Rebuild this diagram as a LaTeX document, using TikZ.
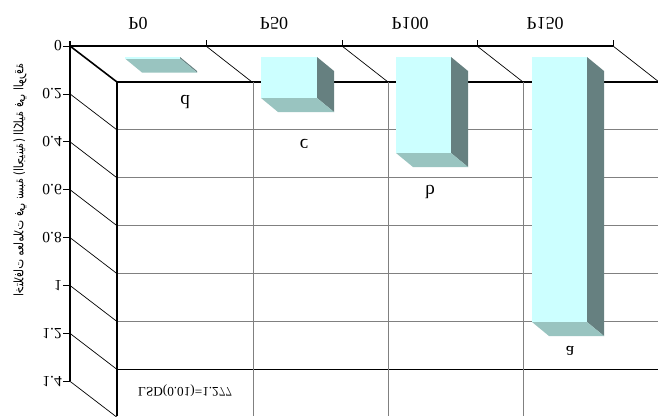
\documentclass[tikz,border=0pt]{standalone}
\usepackage{fontspec}
\setmainfont{Liberation Serif}
\newfontfamily\arabicfont[Script=Arabic]{DejaVu Sans}
\TeXXeTstate=1
\newcommand{\flipv}[1]{\scalebox{1}[-1]{#1}}
\definecolor{barfront}{RGB}{204,255,255}
\definecolor{barside}{RGB}{102,128,128}
\definecolor{barbot}{RGB}{153,196,192}
\definecolor{gridgray}{RGB}{128,128,128}
\newcommand{\cuboid}[4]{%
  \fill[barside] (#2,#3) -- ++(17,14) -- (#2+17,#4+14) -- (#2,#4) -- cycle;
  \fill[barbot] (#1,#4) -- (#2,#4) -- (#2+17,#4+14) -- (#1+17,#4+14) -- cycle;
  \fill[barfront] (#1,#3) rectangle (#2,#4);}
\tikzset{
  gridline/.style={draw=gridgray, line width=1pt},
  blackline/.style={draw=black, line width=1.1pt},
  thinline/.style={draw=black, line width=0.7pt},
  catlabel/.style={font=\fontsize{18}{20}\selectfont, inner sep=0pt},
  ticklabel/.style={font=\fontsize{15.5}{18}\selectfont, inner sep=0pt, anchor=east},
  grouplabel/.style={font=\fontsize{19}{21}\selectfont, inner sep=0pt},
}
\begin{document}
\begin{tikzpicture}[x=1pt,y=-1pt]
\useasboundingbox[fill=white] (0,0) rectangle (658,416);
% front grid
\foreach \k in {1,...,5} {
  \draw[gridline] (117,82+47.9*\k) -- (658,82+47.9*\k);
}
\draw[blackline] (117,82) -- (658,82);
\draw[blackline] (117,369.4) -- (658,369.4);
\foreach \x in {253,388,523} {
  \draw[gridline] (\x,82) -- (\x,416);
}
\draw[blackline] (117,82) -- (117,416);
% back top line with ticks and diagonals
\draw[blackline, line width=1.4pt] (70,46) -- (613,46);
\foreach \x in {206,342,477,613} {
  \draw[thinline] (\x,40) -- (\x,46);
  \draw[thinline] (\x,46) -- (\x+46,82);
}
\draw[blackline, line width=1.6pt] (70,46) -- (117,82);
% axis
\draw[draw=black, line width=2pt] (70,41) -- (70,381.3);
\foreach \k/\lab in {0/0,1/0.2,2/0.4,3/0.6,4/0.8,5/1,6/1.2,7/1.4} {
  \draw[thinline] (63,46+47.9*\k) -- (70,46+47.9*\k);
  \node[ticklabel] (t\k) at (62,46+47.9*\k) {\flipv{\lab}};
}
\foreach \k in {1,...,7} {
  \draw[thinline] (70,46+47.9*\k) -- (117,82+47.9*\k);
}
% bars
\cuboid{125}{180}{57}{58.5}
\cuboid{261}{317}{57}{98}
\cuboid{396}{451}{57}{153}
\cuboid{532}{587}{57}{322}
% group letters
\node[grouplabel] (ld) at (185,102) {\flipv{d}};
\node[grouplabel] (lc) at (304,144) {\flipv{c}};
\node[grouplabel] (lb) at (430,192) {\flipv{b}};
\node[grouplabel] (la) at (570,351) {\flipv{a}};
% category labels
\node[catlabel] (p0) at (138,23) {\flipv{P0}};
\node[catlabel] (p50) at (274,23) {\flipv{P50}};
\node[catlabel] (p100) at (410,23) {\flipv{P100}};
\node[catlabel] (p150) at (545,23) {\flipv{P150}};
% LSD
\node[font=\fontsize{13.2}{15}\selectfont, inner sep=0pt] (lsd) at (185,391) {\flipv{LSD(0.01)=1.277}};
% y-axis title
\node[rotate=-90, inner sep=0pt] (ytitle) at (20,180) {\scalebox{0.81}[-1]{\arabicfont\fontsize{13}{15}\selectfont\beginR اختلافات معاملات في نسبة (الجينية) الكلية في الورقة\endR}};
\end{tikzpicture}
\end{document}
